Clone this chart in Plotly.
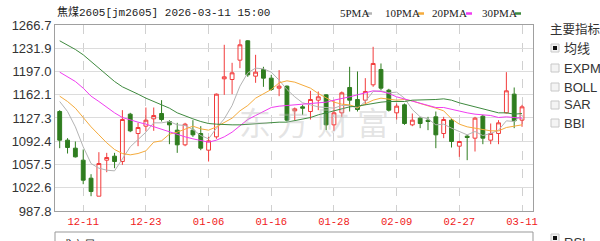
import plotly.graph_objects as go

# ---------------- data ----------------
bar_index = list(range(60))
open_ = [1137,1094,1082,1064,1037,1010,1064,1070,1062,1133,1104,1115,1126,1134,1122,1109,1087,1109,1104,1079,
         1099,1186,1185,1214,1243,1190,1200,1187,1172,1175,1138,1144,1137,1154,1162,1117,1135,1173,1155,1154,
         1177,1200,1169,1135,1147,1117,1127,1124,1129,1104,1124,1085,1100,1097,1130,1094,1104,1135,1163,1124]
high = [1139,1097,1092,1080,1043,1076,1075,1075,1139,1135,1120,1143,1143,1154,1124,1120,1120,1124,1115,1099,
        1164,1237,1210,1245,1244,1222,1204,1192,1199,1176,1143,1147,1168,1167,1163,1154,1167,1204,1197,1187,
        1234,1209,1171,1149,1149,1134,1129,1129,1137,1129,1126,1093,1102,1129,1132,1119,1124,1196,1173,1147]
low = [1082,1074,1068,1028,1010,1010,1046,1052,1057,1106,1085,1107,1108,1122,1088,1075,1085,1099,1079,1062,
       1096,1162,1163,1202,1189,1180,1174,1168,1160,1122,1124,1132,1125,1139,1109,1108,1129,1137,1137,1147,
       1174,1169,1137,1125,1117,1115,1112,1109,1082,1097,1083,1069,1064,1077,1088,1088,1088,1134,1112,1114]
close = [1094,1083,1069,1034,1017,1059,1068,1062,1125,1108,1113,1124,1131,1125,1117,1087,1118,1102,1082,1093,
         1163,1189,1195,1237,1192,1196,1187,1170,1175,1124,1141,1142,1155,1159,1117,1135,1165,1154,1140,1167,
         1209,1172,1139,1145,1119,1124,1119,1122,1102,1125,1092,1092,1098,1127,1097,1104,1120,1168,1123,1144]

ma5 = [1152,1137,1114,1084,1059,1052,1049,1048,1066,1084,1095,1106,1120,1120,1122,1117,1116,1110,1101,1096,
       1112,1126,1146,1175,1195,1202,1201,1196,1184,1170,1159,1150,1147,1144,1143,1142,1146,1146,1142,1152,
       1167,1168,1165,1166,1157,1140,1129,1126,1117,1118,1112,1107,1102,1107,1101,1104,1109,1123,1122,1132]
ma10 = [1160,1152,1142,1128,1114,1102,1090,1080,1074,1072,1074,1078,1091,1093,1103,1106,1111,1115,1111,1109,
        1114,1121,1127,1138,1146,1157,1164,1170,1180,1183,1181,1176,1172,1164,1157,1151,1148,1147,1143,1148,
        1154,1157,1156,1154,1155,1153,1149,1146,1142,1138,1126,1118,1114,1112,1110,1108,1108,1113,1115,1117]
ma20 = [1196,1189,1182,1172,1160,1152,1143,1135,1128,1124,1121,1118,1114,1111,1107,1103,1099,1096,1093,1091,
        1094,1099,1106,1116,1125,1131,1137,1143,1145,1146,1147,1148,1150,1151,1151,1154,1156,1159,1162,1165,
        1168,1167,1164,1159,1156,1152,1149,1146,1143,1143,1140,1138,1135,1133,1132,1131,1128,1129,1128,1127]
ma30 = [1243,1237,1230,1222,1212,1202,1192,1182,1174,1169,1163,1157,1152,1147,1142,1135,1130,1126,1122,1119,
        1118,1117,1117,1117,1118,1119,1119,1120,1121,1121,1123,1125,1128,1132,1135,1138,1141,1144,1145,1147,
        1150,1151,1152,1152,1152,1154,1154,1154,1155,1156,1154,1150,1147,1144,1140,1137,1135,1135,1133,1134]

tick_pos = [3, 11, 19, 27, 35, 43, 51, 59]
tick_dates = ["12-11", "12-23", "01-06", "01-16", "01-28", "02-09", "02-27", "03-11"]
y_ticks = [987.8, 1022.6, 1057.5, 1092.4, 1127.3, 1162.1, 1197.0, 1231.9, 1266.7]
ma_names = ["5PMA", "10PMA", "20PMA", "30PMA"]
title_text = "焦煤2605[jm2605] 2026-03-11 15:00"
indicator_title = "主要指标"
indicators = ["均线", "EXPMA", "BOLL", "SAR", "BBI"]

# ---------------- styles ----------------
RED = "#f23b3b"
GREEN = "#2f7d1f"
MA_COLORS = ["#b4b4b4", "#f5ab3c", "#f03cf0", "#3f8a3f"]
MONO = "Liberation Mono, Noto Sans CJK SC, monospace"
SANS = "Liberation Sans, Noto Sans CJK SC, sans-serif"

W, H = 600, 241
L, R, T, B = 55, 533, 25, 211


def px(x):
    return (x - L) / (R - L)


def py(y):
    return (B - y) / (B - T)


fig = go.Figure()
fig.add_trace(go.Candlestick(
    x=bar_index, open=open_, high=high, low=low, close=close,
    increasing=dict(line=dict(color=RED, width=1), fillcolor="rgba(255,255,255,0)"),
    decreasing=dict(line=dict(color=GREEN, width=1), fillcolor=GREEN),
    whiskerwidth=0, showlegend=False, hoverinfo="skip",
))
for name, vals, col in zip(ma_names, [ma5, ma10, ma20, ma30], MA_COLORS):
    fig.add_trace(go.Scatter(x=bar_index, y=vals, mode="lines", name=name,
                             line=dict(color=col, width=1), showlegend=False, hoverinfo="skip"))

ann = []
# watermark
for ch, cx in zip("东方财富", [255, 293, 333, 373]):
    ann.append(dict(x=px(cx), y=py(121), xref="paper", yref="paper", text=ch, showarrow=False,
                    font=dict(family="Noto Sans CJK SC", size=32, color="rgba(185,185,185,0.38)"),
                    xanchor="center", yanchor="middle"))
# title
ann.append(dict(x=px(55), y=py(12), xref="paper", yref="paper", text=title_text, showarrow=False,
                font=dict(family=MONO, size=11, color="#222"), xanchor="left", yanchor="middle"))
# MA legend
leg_x = [338, 383, 430, 480]
for name, col, lx in zip(ma_names, MA_COLORS, leg_x):
    ann.append(dict(x=px(lx), y=py(13), xref="paper", yref="paper", text=name, showarrow=False,
                    font=dict(family="Liberation Serif, serif", size=11, color="#222"),
                    xanchor="left", yanchor="middle"))
# right panel
ann.append(dict(x=px(548), y=py(29), xref="paper", yref="paper", text=indicator_title, showarrow=False,
                font=dict(family="Noto Sans CJK SC", size=12.5, color="#333"), xanchor="left", yanchor="middle"))
rows_y = [48, 68, 87, 105, 123]
for t, ry in zip(indicators, rows_y):
    ann.append(dict(x=px(562), y=py(ry), xref="paper", yref="paper", text=t, showarrow=False,
                    font=dict(family=SANS, size=13, color="#333"), xanchor="left", yanchor="middle"))
ann.append(dict(x=px(562), y=py(242), xref="paper", yref="paper", text="RSI", showarrow=False,
                font=dict(family=SANS, size=13, color="#333"), xanchor="left", yanchor="middle"))
ann.append(dict(x=px(58), y=py(244), xref="paper", yref="paper", text="成交量：679845", showarrow=False,
                font=dict(family="Noto Sans CJK SC", size=12, color="#333"), xanchor="left", yanchor="middle"))

shapes = []
# legend swatches
for col, lx in zip(MA_COLORS, [366, 418, 466, 515]):
    shapes.append(dict(type="line", xref="paper", yref="paper", x0=px(lx), x1=px(lx + 6),
                       y0=py(13.5), y1=py(13.5), line=dict(color=col, width=2.5)))
# checkboxes
for i, ry in enumerate(rows_y + [238]):
    checked = i == 0 or ry == 238
    shapes.append(dict(type="rect", xref="paper", yref="paper", x0=px(551), x1=px(559),
                       y0=py(ry + 4), y1=py(ry - 4), line=dict(color="#c8c8c8", width=1),
                       fillcolor="#f4f4f4"))
    if checked:
        shapes.append(dict(type="rect", xref="paper", yref="paper", x0=px(553), x1=px(557),
                           y0=py(ry + 2), y1=py(ry - 2), line=dict(width=0), fillcolor="#111"))
# volume pane top edge
shapes.append(dict(type="rect", xref="paper", yref="paper", x0=px(55), x1=px(533),
                   y0=py(232), y1=py(300), line=dict(color="#999", width=1), fillcolor="rgba(0,0,0,0)"))

fig.update_layout(
    width=W, height=H, autosize=False,
    margin=dict(l=L, r=W - R, t=T, b=H - B),
    paper_bgcolor="white", plot_bgcolor="white",
    annotations=ann, shapes=shapes, showlegend=False,
    xaxis=dict(range=[-0.6, 60.4], tickvals=tick_pos, ticktext=tick_dates,
               showgrid=True, gridcolor="#d0d0d0", griddash="dash", gridwidth=1,
               showline=True, mirror=True, linecolor="#a0a0a0", linewidth=1,
               zeroline=False, ticks="", rangeslider=dict(visible=False),
               tickfont=dict(family=MONO, size=10.5, color="#f02020")),
    yaxis=dict(range=[987.8, 1266.7], tickvals=y_ticks, ticktext=[f"{v:.1f}" for v in y_ticks],
               showgrid=True, gridcolor="#dcdcdc", gridwidth=1,
               showline=True, mirror=True, linecolor="#a0a0a0", linewidth=1,
               zeroline=False, ticks="",
               tickfont=dict(family=SANS, size=13, color="#333")),
)

fig.write_html("out.html")
